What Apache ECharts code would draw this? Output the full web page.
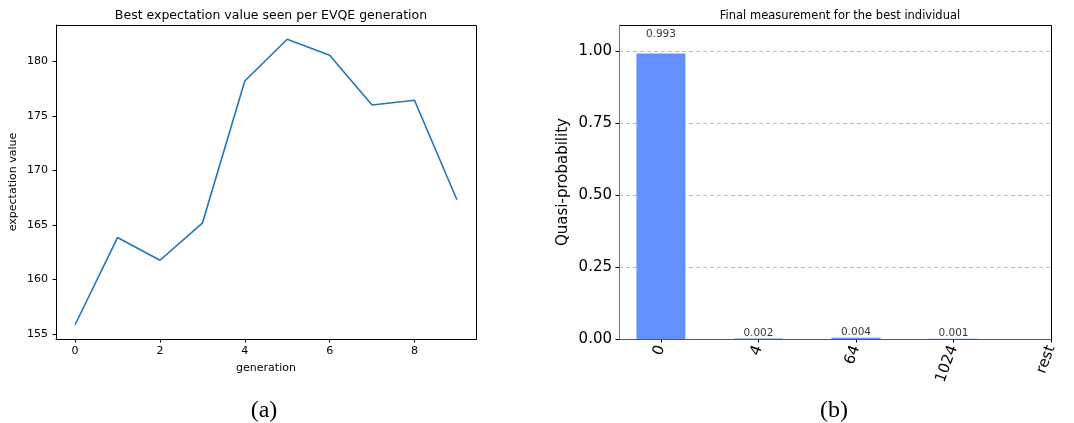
<!DOCTYPE html>
<html>
<head>
<meta charset="utf-8">
<script src="https://cdn.jsdelivr.net/npm/echarts@6/dist/echarts.min.js"></script>
<style>
html,body{margin:0;padding:0;background:#fff;}
#chart{width:1074px;height:423px;}
</style>
</head>
<body>
<div id="chart"></div>
<script>
// ---- data ----
const generations = [0, 1, 2, 3, 4, 5, 6, 7, 8, 9];
const bestValues = [155.85, 163.85, 161.77, 165.17, 178.22, 182.05, 180.58, 176.02, 176.45, 167.32];
const genTicks = [0, 2, 4, 6, 8];
const expTicks = [155, 160, 165, 170, 175, 180];

const states = ['0', '4', '64', '1024', 'rest'];
const quasiProbs = [0.993, 0.002, 0.004, 0.001];
const stateTickIdx = [0, 1, 2, 3, 4];
const probLabels = ['0.993', '0.002', '0.004', '0.001'];

const FONT = 'DejaVu Sans';
const chart = echarts.init(document.getElementById('chart'), null, {renderer: 'canvas'});

const G1 = {left: 56, top: 25, width: 420, height: 314};
const G2 = {left: 619, top: 25, width: 432, height: 314};

const option = {
  animation: false,
  backgroundColor: '#fff',
  textStyle: {fontFamily: FONT},
  title: [
    {text: 'Best expectation value seen per EVQE generation', left: 266, top: 4, textAlign: 'center',
     textStyle: {fontFamily: FONT, fontSize: 12.5, fontWeight: 'normal', color: '#000'}},
    {text: 'Final measurement for the best individual', left: 835, top: 5, textAlign: 'center',
     textStyle: {fontFamily: FONT, fontSize: 11.5, fontWeight: 'normal', color: '#000'}},
    {text: '(a)', left: 259, top: 394, textAlign: 'center',
     textStyle: {fontFamily: 'Liberation Serif', fontSize: 24, fontWeight: 'normal', color: '#000'}},
    {text: '(b)', left: 829, top: 394, textAlign: 'center',
     textStyle: {fontFamily: 'Liberation Serif', fontSize: 24, fontWeight: 'normal', color: '#000'}}
  ],
  grid: [
    Object.assign({show: false}, G1),
    Object.assign({show: false}, G2)
  ],
  graphic: [
    {type: 'rect', z: 100, silent: true, shape: {x: G1.left + 0.5, y: G1.top + 0.5, width: G1.width, height: G1.height},
     style: {fill: null, stroke: '#000', lineWidth: 1}},
    {type: 'rect', z: 100, silent: true, shape: {x: G2.left + 0.5, y: G2.top + 0.5, width: G2.width, height: G2.height},
     style: {fill: null, stroke: '#000', lineWidth: 1}},
    {type: 'line', z: 101, silent: true, shape: {x1: G2.left + 0.5, y1: G2.top, x2: G2.left + 0.5, y2: G2.top + G2.height + 1},
     style: {stroke: '#777', lineWidth: 1}},
    {type: 'line', z: 101, silent: true, shape: {x1: G2.left, y1: G2.top + G2.height + 0.5, x2: G2.left + G2.width, y2: G2.top + G2.height + 0.5},
     style: {stroke: '#555', lineWidth: 1}}
  ],
  xAxis: [
    {gridIndex: 0, type: 'value', min: -0.45, max: 9.45,
     name: 'generation', nameLocation: 'middle', nameGap: 24,
     nameTextStyle: {fontFamily: FONT, fontSize: 11, color: '#000'},
     axisLine: {show: true, onZero: false, lineStyle: {color: '#000', width: 1}},
     axisTick: {show: true, length: 3.5, customValues: genTicks, lineStyle: {color: '#000'}},
     axisLabel: {show: true, customValues: genTicks, margin: 7, fontFamily: FONT, fontSize: 11, color: '#000'},
     splitLine: {show: false}},
    {gridIndex: 1, type: 'value', min: -0.43, max: 4,
     axisLine: {show: true, onZero: false, lineStyle: {color: '#555', width: 1}},
     axisTick: {show: true, length: 3.5, customValues: stateTickIdx, lineStyle: {color: '#000'}},
     axisLabel: {show: true, customValues: stateTickIdx, rotate: 70, margin: 7, fontFamily: FONT, fontSize: 15, color: '#000',
       padding: [6, 0, 0, 0],
       formatter: v => states[Math.round(v)]},
     splitLine: {show: false}}
  ],
  yAxis: [
    {gridIndex: 0, type: 'value', min: 154.54, max: 183.36,
     name: 'expectation value', nameLocation: 'middle', nameGap: 37, nameRotate: 90,
     nameTextStyle: {fontFamily: FONT, fontSize: 11, color: '#000'},
     axisLine: {show: true, onZero: false, lineStyle: {color: '#000', width: 1}},
     axisTick: {show: true, length: 3.5, customValues: expTicks, lineStyle: {color: '#000'}},
     axisLabel: {show: true, customValues: expTicks, margin: 8, fontFamily: FONT, fontSize: 11, color: '#000'},
     splitLine: {show: false}},
    {gridIndex: 1, type: 'value', min: 0, max: 1.0923, interval: 0.25,
     name: 'Quasi-probability', nameLocation: 'middle', nameGap: 48, nameRotate: 90,
     nameTextStyle: {fontFamily: FONT, fontSize: 15, color: '#000'},
     axisLine: {show: true, onZero: false, lineStyle: {color: '#777', width: 1}},
     axisTick: {show: true, length: 3.5, lineStyle: {color: '#000'}},
     axisLabel: {show: true, showMaxLabel: false, margin: 7, fontFamily: FONT, fontSize: 15, color: '#000',
       formatter: v => v.toFixed(2)},
     splitLine: {show: true, lineStyle: {color: '#bbb', type: [4, 3], width: 1}}}
  ],
  series: [
    {type: 'line', xAxisIndex: 0, yAxisIndex: 0, symbol: 'none',
     lineStyle: {color: '#1f77b4', width: 1.6}, itemStyle: {color: '#1f77b4'},
     data: generations.map((g, i) => [g, bestValues[i]])},
    {type: 'bar', xAxisIndex: 1, yAxisIndex: 1, barWidth: 49,
     itemStyle: {color: '#648fff'},
     data: quasiProbs.map((p, i) => [i, p])},
    {type: 'scatter', xAxisIndex: 1, yAxisIndex: 1, symbolSize: 0, silent: true,
     label: {show: true, position: 'top', distance: 0, fontFamily: FONT, fontSize: 10.5, color: '#000',
       formatter: p => probLabels[p.dataIndex]},
     data: quasiProbs.map((p, i) => [i, p * 1.05])}
  ]
};
chart.setOption(option);
</script>
</body>
</html>
